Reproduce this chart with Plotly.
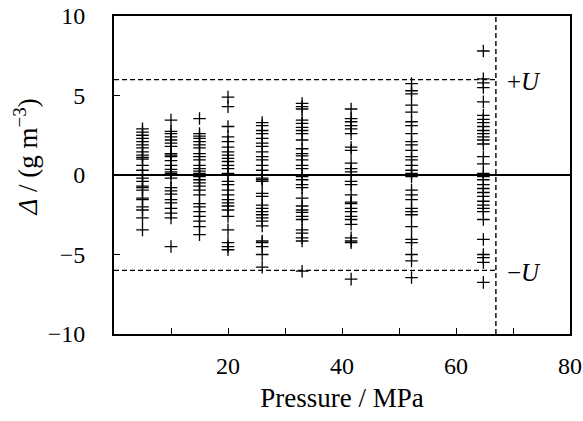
import plotly.graph_objects as go

# Pressures (MPa) of each measurement column
pressures = [5.0, 10.0, 15.0, 20.0, 26.0, 33.0, 41.6, 52.2, 64.8]

# Deviations Delta (g m^-3) read for each column
dev_5 = [2.9, 2.7, 2.5, 2.3, 2.1, 1.9, 1.7, 1.45, 1.25, 1.1, 1.0, 0.6, 0.3, 0.0, -0.2,
         -0.4, -0.7, -0.8, -0.95, -1.45, -1.55, -2.0, -2.2, -2.7, -3.45]
dev_10 = [3.45, 2.75, 2.6, 2.4, 2.2, 2.0, 1.8, 1.35, 1.25, 1.15, 0.9, 0.6, 0.35, 0.2, 0.1,
          -0.2, -0.8, -1.0, -1.2, -1.55, -1.75, -2.1, -2.4, -2.7, -4.5]
dev_15 = [3.55, 2.6, 2.45, 2.3, 2.1, 1.9, 1.7, 1.35, 1.15, 0.95, 0.6, 0.4, 0.25, 0.1, -0.1,
          -0.3, -0.5, -0.7, -0.95, -1.25, -1.8, -2.0, -2.3, -2.6, -2.9, -3.25, -3.75]
dev_20 = [4.9, 4.3, 3.05, 2.4, 2.1, 1.75, 1.45, 1.25, 1.05, 0.85, 0.6, 0.4, 0.1, -0.4, -0.6,
          -0.95, -1.25, -1.55, -1.75, -1.95, -2.2, -2.6, -3.45, -4.25, -4.5, -4.7]
dev_26 = [3.3, 3.1, 2.8, 2.6, 2.3, 2.0, 1.8, 1.45, 1.15, 0.95, 0.6, 0.3, 0.0, -0.2, -0.3,
          -0.4, -1.15, -1.35, -1.9, -2.1, -2.3, -2.5, -2.7, -2.9, -3.2, -4.15, -4.25, -4.5,
          -5.0, -5.8]
dev_33 = [4.5, 4.3, 4.15, 3.45, 3.25, 3.0, 2.8, 2.6, 2.2, 1.65, 1.35, 1.2, 0.95, 0.6, 0.4,
          -0.1, -0.3, -0.6, -0.8, -1.45, -1.95, -2.2, -2.35, -2.6, -2.8, -3.45, -3.65,
          -3.95, -4.15, -6.05]
dev_41 = [4.15, 3.55, 3.35, 3.1, 2.9, 2.6, 1.75, 1.55, 0.75, 0.4, 0.2, -0.4, -0.6, -1.25,
          -1.7, -1.8, -2.1, -2.3, -2.6, -2.8, -3.1, -3.95, -4.15, -4.25, -6.55]
dev_52 = [5.75, 5.3, 5.1, 4.4, 3.95, 3.35, 3.1, 2.6, 2.1, 1.9, 1.55, 1.15, 0.95, 0.6, 0.3,
          0.1, -0.1, -0.95, -1.25, -1.55, -2.1, -2.3, -2.5, -3.25, -4.05, -4.25, -5.0,
          -5.4, -6.45]
dev_65 = [7.8, 6.05, 5.8, 5.5, 4.6, 3.75, 3.5, 3.3, 3.05, 2.8, 2.6, 2.4, 2.2, 1.95, 1.15,
          0.7, 0.1, -0.1, -0.3, -0.6, -0.85, -1.1, -1.35, -1.65, -1.9, -2.1, -2.3, -2.8,
          -4.05, -5.0, -5.2, -5.5, -6.75]
deviations = [dev_5, dev_10, dev_15, dev_20, dev_26, dev_33, dev_41, dev_52, dev_65]

# Expanded uncertainty band and its pressure limit
U = 6.0
p_limit = 67.0

x_tickvals = [0, 10, 20, 30, 40, 50, 60, 70, 80]
x_ticktext = ["", "", "20", "", "40", "", "60", "", "80"]
y_tickvals = [-10, -5, 0, 5, 10]
y_ticktext = ["−10", "−5", "0", "5", "10"]

xs, ys = [], []
for p, d in zip(pressures, deviations):
    xs += [p] * len(d)
    ys += d

FONT = "Liberation Serif, Times New Roman, serif"

fig = go.Figure()
fig.add_trace(go.Scatter(
    x=xs, y=ys, mode="markers",
    marker=dict(symbol="cross-thin", size=9, color="black",
                line=dict(color="black", width=1.3)),
    showlegend=False, hoverinfo="skip"))

dash = dict(color="black", width=1.4, dash="5px,3px")
fig.add_shape(type="line", x0=0, x1=p_limit, y0=U, y1=U, line=dash)
fig.add_shape(type="line", x0=0, x1=p_limit, y0=-U, y1=-U, line=dash)
fig.add_shape(type="line", x0=p_limit, x1=p_limit, y0=-10, y1=10, line=dash)

fig.add_annotation(x=68.6, y=5.85, text="+<i>U</i>", showarrow=False,
                   xanchor="left", yanchor="middle",
                   font=dict(family=FONT, size=25, color="black"))
fig.add_annotation(x=68.6, y=-6.15, text="−<i>U</i>", showarrow=False,
                   xanchor="left", yanchor="middle",
                   font=dict(family=FONT, size=25, color="black"))

# y-axis title as a rotated annotation for exact placement
fig.add_annotation(xref="paper", yref="paper", x=-0.195, y=0.555,
                   text="<i>Δ</i> / (g m<sup>−3</sup>)", textangle=-90,
                   showarrow=False, xanchor="center", yanchor="middle",
                   font=dict(family=FONT, size=27, color="black"))

fig.update_layout(
    width=583, height=421,
    margin=dict(l=114, r=13, t=16, b=87, autoexpand=False),
    paper_bgcolor="white", plot_bgcolor="white",
    font=dict(family=FONT, size=24, color="black"),
    xaxis=dict(range=[0, 80], tickvals=x_tickvals, ticktext=x_ticktext,
               ticks="inside", ticklen=6, tickwidth=1.2, tickcolor="black",
               showline=True, linecolor="black", linewidth=2, mirror=True,
               showgrid=False, zeroline=False, ticklabelstandoff=9,
               automargin=False,
               tickfont=dict(family=FONT, size=24),
               title=dict(text="Pressure / MPa", font=dict(family=FONT, size=27), standoff=10)),
    yaxis=dict(range=[-10, 10], tickvals=y_tickvals, ticktext=y_ticktext,
               ticks="inside", ticklen=6, tickwidth=1.2, tickcolor="black",
               showline=True, linecolor="black", linewidth=2, mirror=True,
               showgrid=False, zeroline=True, zerolinecolor="black", zerolinewidth=1.5,
               ticklabelstandoff=22, automargin=False,
               tickfont=dict(family=FONT, size=24)),
)

fig.write_html("out.html", config={"displayModeBar": False},
               post_script="document.body.style.margin='0';document.body.style.padding='0';")
